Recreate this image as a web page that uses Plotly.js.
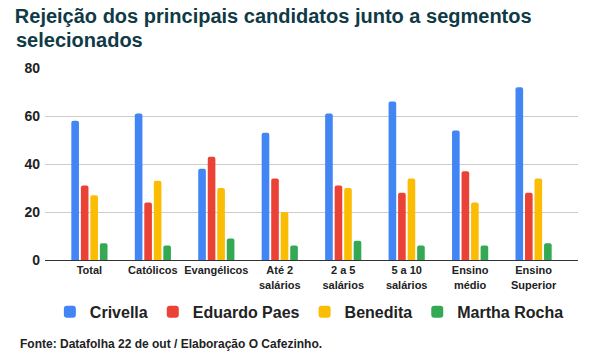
<!DOCTYPE html>
<html>
<head>
<meta charset="utf-8">
<script src="https://cdn.plot.ly/plotly-3.0.1.min.js"></script>
<style>html,body{margin:0;padding:0;background:#fff;}#chart{width:593px;height:361px;}</style>
</head>
<body>
<div id="chart"></div>
<script>
var categories = ["Total", "Católicos", "Evangélicos", "Até 2<br>salários", "2 a 5<br>salários", "5 a 10<br>salários", "Ensino<br>médio", "Ensino<br>Superior"];
var crivella = [58, 61, 38, 53, 61, 66, 54, 72];
var eduardoPaes = [31, 24, 43, 34, 31, 28, 37, 28];
var benedita = [27, 33, 30, 20, 30, 34, 24, 34];
var marthaRocha = [7, 6, 9, 6, 8, 6, 6, 7];
var seriesNames = ["Crivella", "Eduardo Paes", "Benedita", "Martha Rocha"];
var seriesColors = ["#4285f4", "#ea4335", "#fbbc04", "#34a853"];
var seriesValues = [crivella, eduardoPaes, benedita, marthaRocha];
var yTicks = [0, 20, 40, 60, 80];

var font = "Liberation Sans, Arial, sans-serif";
var traces = seriesValues.map(function (vals, i) {
  return {
    type: "bar",
    name: seriesNames[i],
    x: categories,
    y: vals,
    marker: { color: seriesColors[i], cornerradius: 2, line: { width: 0 } },
    hoverinfo: "x+y+name"
  };
});

var layout = {
  width: 593,
  height: 361,
  paper_bgcolor: "#fff",
  plot_bgcolor: "#fff",
  margin: { l: 45, r: 15, t: 68, b: 101 },
  font: { family: font, color: "#222" },
  title: {
    text: "<b>Rejeição dos principais candidatos junto a segmentos</b>",
    font: { family: font, size: 20, color: "#0f3a46" },
    xref: "container", x: 0.025, xanchor: "left",
    yref: "container", y: 0.975, yanchor: "top",
    pad: { t: 0, b: 0, l: 0, r: 0 }
  },
  annotations: [
    {
      text: "<b>selecionados</b>", xref: "paper", yref: "paper",
      x: -0.0585, y: 1.148, xanchor: "left", yanchor: "middle",
      showarrow: false, font: { family: font, size: 20, color: "#0f3a46" }
    },
    {
      text: "<b>Fonte: Datafolha 22 de out / Elaboração O Cafezinho.</b>", xref: "paper", yref: "paper",
      x: -0.0506, y: -0.437, xanchor: "left", yanchor: "middle",
      showarrow: false, font: { family: font, size: 12, color: "#222" }
    }
  ],
  barmode: "group",
  bargap: 0.4,
  bargroupgap: 0.2,
  showlegend: true,
  legend: {
    orientation: "h", x: 0.496, xanchor: "center", y: -0.182, yanchor: "top",
    font: { family: font, size: 16, color: "#222", weight: "bold" },
    traceorder: "normal", itemwidth: 30
  },
  xaxis: {
    type: "category",
    range: [-0.7, 7.7],
    tickfont: { family: font, size: 11, color: "#222", weight: "bold" },
    showgrid: false,
    showline: true, linecolor: "#333", linewidth: 1,
    ticks: "", fixedrange: true
  },
  yaxis: {
    range: [0, 80],
    tickvals: yTicks,
    ticktext: yTicks.map(String),
    tickfont: { family: font, size: 14, color: "#222", weight: "bold" },
    showgrid: true, gridcolor: "#cccccc", gridwidth: 1,
    zeroline: true, zerolinecolor: "#333", zerolinewidth: 1,
    ticks: "", ticklabelstandoff: 4, fixedrange: true
  }
};

Plotly.newPlot("chart", traces, layout, { displayModeBar: false, staticPlot: true });
</script>
</body>
</html>
